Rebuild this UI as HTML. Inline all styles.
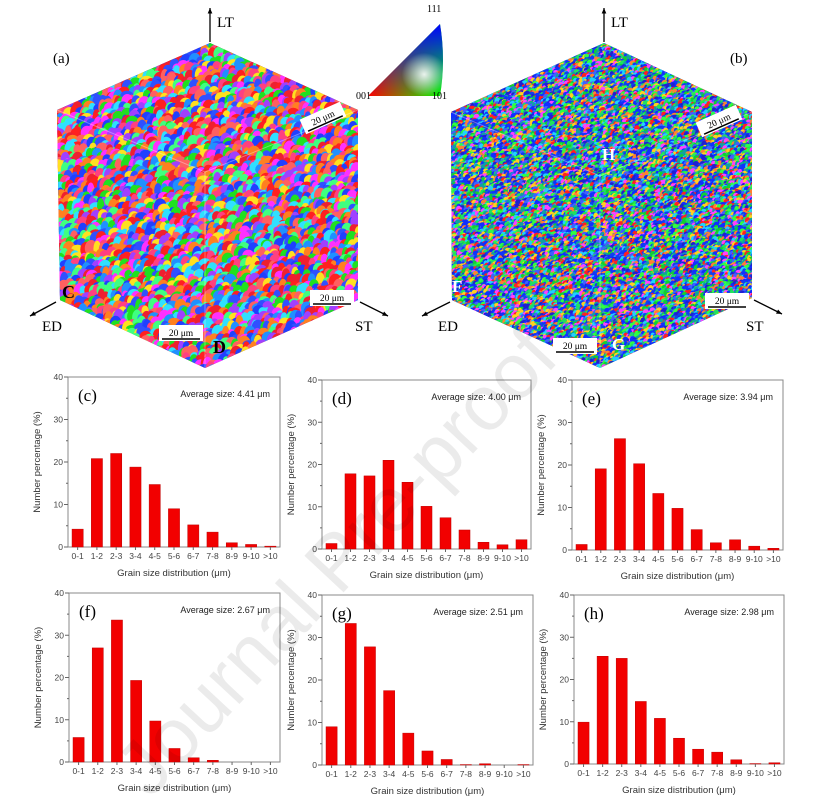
<!DOCTYPE html>
<html><head><meta charset="utf-8">
<style>
html,body{margin:0;padding:0;background:#fff;}
#wrap{position:relative;width:831px;height:806px;overflow:hidden;}
svg{position:absolute;left:0;top:0;}
</style></head>
<body>
<div id="wrap">
<svg id="svg" width="831" height="806" viewBox="0 0 831 806">
<defs>
<linearGradient id="ipfH" x1="0" y1="0" x2="1" y2="0"><stop offset="0" stop-color="#ff0000"/><stop offset="1" stop-color="#00ff00"/></linearGradient>
<linearGradient id="ipfV" x1="0" y1="1" x2="0" y2="0"><stop offset="0" stop-color="#0000ff" stop-opacity="0"/><stop offset="1" stop-color="#0000ff" stop-opacity="1"/></linearGradient>
<radialGradient id="ipfW" cx="0.75" cy="0.7" r="0.3"><stop offset="0" stop-color="#fff" stop-opacity="0.9"/><stop offset="1" stop-color="#fff" stop-opacity="0"/></radialGradient>
<clipPath id="clipA"><polygon points="210,43 358,110 358,300 205,368 60,300 57,110"/></clipPath>
<clipPath id="clipB"><polygon points="604,43 752,112 752,298 600,368 452,300 451,112"/></clipPath>
</defs>
<g id="cubeA" clip-path="url(#clipA)"></g>
<g id="cubeB" clip-path="url(#clipB)"></g>
<g id="charts"></g>
</svg>
</div>
<script>
// ---------- chart data ----------
const categories = ["0-1","1-2","2-3","3-4","4-5","5-6","6-7","7-8","8-9","9-10",">10"];
const yTicks = [0,10,20,30,40];
const valuesC = [4.2,20.8,22,18.8,14.7,9,5.2,3.5,1,0.6,0.2];
const valuesD = [1.3,17.8,17.3,21,15.8,10.1,7.4,4.5,1.6,1,2.2];
const valuesE = [1.3,19.1,26.2,20.3,13.3,9.8,4.8,1.7,2.4,0.9,0.4];
const valuesF = [5.8,27,33.6,19.3,9.7,3.2,1,0.4,0,0,0];
const valuesG = [9,33.3,27.8,17.5,7.5,3.3,1.3,0.1,0.3,0,0.1];
const valuesH = [9.9,25.5,25,14.8,10.8,6.1,3.5,2.8,1,0.1,0.3];
const panelLabels = ["(c)","(d)","(e)","(f)","(g)","(h)"];
const avgSizes = ["4.41","4.00","3.94","2.67","2.51","2.98"];

const NS="http://www.w3.org/2000/svg";
const svg=document.getElementById('svg');
function mk(tag,attrs,parent){const e=document.createElementNS(NS,tag);for(const k in attrs)e.setAttribute(k,attrs[k]);(parent||svg).appendChild(e);return e;}

// ---------- decorative grain mosaics ----------
let seed=12345;function rnd(){seed=(seed*16807)%2147483647;return seed/2147483647;}
const palA=["#ff2020","#20e020","#2040ff","#ff30ff","#30e0ff","#ff8020","#ffe020","#a040ff","#ff4080","#40ff80","#2090ff","#ff6060","#3050ff","#ee2030"];
const palB=["#1030ff","#1030ff","#2020d0","#1040f0","#10d030","#30ff40","#ff2020","#20d0ff","#ff40ff","#ffd020","#4060ff","#10a0a0","#ff8030","#20e060"];
function mosaic(g,x0,y0,x1,y1,cw,ch,pal){
  mk('rect',{x:x0,y:y0,width:x1-x0,height:y1-y0,fill:"#e8e8f0"},g);
  for(let y=y0;y<y1;y+=ch*0.75){for(let x=x0;x<x1;x+=cw*0.75){
    const w=cw*(0.6+rnd()*0.5),h=ch*(0.6+rnd()*0.6);
    const r=mk('ellipse',{cx:(x+rnd()*cw*0.6).toFixed(1),cy:(y+rnd()*ch*0.6).toFixed(1),rx:w.toFixed(1),ry:h.toFixed(1),fill:pal[Math.floor(rnd()*pal.length)]},g);
    
    
  }}
}
mosaic(document.getElementById('cubeA'),50,38,365,375,6,7,palA);
mosaic(document.getElementById('cubeB'),445,38,760,375,3,3,palB);
// cube edges
mk('polyline',{points:"57,110 205,172 358,110",fill:"none",stroke:"#fff","stroke-opacity":0.35,"stroke-width":1});
mk('line',{x1:205,y1:172,x2:205,y2:368,stroke:"#fff","stroke-opacity":0.35});
mk('polyline',{points:"451,112 600,176 752,112",fill:"none",stroke:"#fff","stroke-opacity":0.35});
mk('line',{x1:600,y1:176,x2:600,y2:368,stroke:"#fff","stroke-opacity":0.35});

function txt(x,y,s,size,fam,attrs,name){const t=mk('text',Object.assign({x:x,y:y,"font-size":size,"font-family":fam,fill:"#000"},attrs||{}));t.textContent=s;return t;}
const SERIF='"Liberation Serif", serif', SANS='"Liberation Sans", sans-serif';
function arrow(x1,y1,x2,y2,name){const l=mk('line',{x1,y1,x2,y2,stroke:"#000","stroke-width":1.3});
 const a=Math.atan2(y2-y1,x2-x1),s=6;mk('polygon',{points:`${x2},${y2} ${x2-s*Math.cos(a-0.4)},${y2-s*Math.sin(a-0.4)} ${x2-s*Math.cos(a+0.4)},${y2-s*Math.sin(a+0.4)}`,fill:"#000"});}
arrow(210,42,210,8,'lt-arrow-a');arrow(56,302,30,316,'ed-arrow-a');arrow(360,302,388,316,'st-arrow-a');
arrow(604,42,604,8,'lt-arrow-b');arrow(450,302,422,316,'ed-arrow-b');arrow(754,300,782,314,'st-arrow-b');
txt(217,27,"LT",15,SERIF,{},'lt-label-a');txt(42,331,"ED",15,SERIF,{},'ed-label-a');txt(355,331,"ST",15,SERIF,{},'st-label-a');
txt(611,27,"LT",15,SERIF,{},'lt-label-b');txt(438,331,"ED",15,SERIF,{},'ed-label-b');txt(746,331,"ST",15,SERIF,{},'st-label-b');
txt(53,63,"(a)",15,SERIF,{},'panel-label-a');txt(730,63,"(b)",15,SERIF,{},'panel-label-b');
txt(62,298,"C",18,SERIF,{"font-weight":"bold"},'marker-c');txt(213,353,"D",18,SERIF,{"font-weight":"bold"},'marker-d');
txt(452,292,"F",17,SERIF,{"font-weight":"bold",fill:"#fff"},'marker-f');txt(612,350,"G",17,SERIF,{"font-weight":"bold",fill:"#fff"},'marker-g');
txt(602,160,"H",17,SERIF,{"font-weight":"bold",fill:"#fff"},'marker-h');
function sbar(x,y,w,name,rot){const g=mk('g',{transform:rot||""});
 mk('rect',{x:x-3,y:y-12,width:w+6,height:16,fill:"#fff"},g);mk('line',{x1:x,y1:y+2,x2:x+w,y2:y+2,stroke:"#000","stroke-width":1.5},g);
 const t=mk('text',{x:x+w/2,y:y-1,"text-anchor":"middle","font-size":9.5,"font-family":SERIF},g);t.textContent="20 μm";}
sbar(162,337,38,'scale-bar-a-front');sbar(313,302,38,'scale-bar-a-side');sbar(304,122,38,'scale-bar-a-top',"rotate(-24 323 118)");
sbar(556,350,38,'scale-bar-b-front');sbar(708,305,38,'scale-bar-b-side');sbar(700,125,38,'scale-bar-b-top',"rotate(-24 719 121)");
const ipf=mk('g',{});
mk('path',{d:"M368,96 L440,96 Q446,60 440,24 Z",fill:"url(#ipfH)"},ipf);
mk('path',{d:"M368,96 L440,96 Q446,60 440,24 Z",fill:"url(#ipfV)"},ipf);
mk('path',{d:"M368,96 L440,96 Q446,60 440,24 Z",fill:"url(#ipfW)"},ipf);
txt(356,99,"001",10,SERIF,{},'ipf-001');txt(432,99,"101",10,SERIF,{},'ipf-101');txt(427,12,"111",10,SERIF,{},'ipf-111');

// ---------- histograms ----------
const charts=document.getElementById('charts');
function drawChart(box,vals,label,avg,name){
  const g=mk('g',{},charts);
  const {l,r,t,b}=box, n=categories.length, slot=(r-l)/n;
  const yS=v=>b-(v/40)*(b-t);
  const xS=i=>l+slot*(i+0.5);
  mk('rect',{x:l,y:t,width:r-l,height:b-t,fill:"none",stroke:"#888","stroke-width":1},g);
  yTicks.forEach(v=>{mk('line',{x1:l-4,y1:yS(v),x2:l,y2:yS(v),stroke:"#666"},g);
    if(v<40)mk('line',{x1:l-2,y1:yS(v+5),x2:l,y2:yS(v+5),stroke:"#666"},g);
    const tt=mk('text',{x:l-5,y:yS(v)+3,"text-anchor":"end","font-size":8.5,"font-family":SANS,fill:"#444"},g);tt.textContent=v;
    });
  const bw=slot*0.58;
  vals.forEach((v,i)=>{
    const bar=mk('rect',{x:xS(i)-bw/2,y:yS(v),width:bw,height:b-yS(v),fill:"#f20000",stroke:"#c00000","stroke-width":0.5},g);
    
    
    mk('line',{x1:xS(i),y1:b,x2:xS(i),y2:b+3,stroke:"#666"},g);
    const xt=mk('text',{x:xS(i),y:b+12,"text-anchor":"middle","font-size":8.5,"font-family":SANS,fill:"#444"},g);xt.textContent=categories[i];
    
  });
  const xl=mk('text',{x:(l+r)/2,y:b+29,"text-anchor":"middle","font-size":9.5,"font-family":SANS,fill:"#333"},g);xl.textContent="Grain size distribution (μm)";
  
  const yl=mk('text',{x:0,y:0,"text-anchor":"middle","font-size":9.5,"font-family":SANS,fill:"#333",transform:`translate(${l-28},${(t+b)/2}) rotate(-90)`},g);yl.textContent="Number percentage (%)";
  
  const pl=mk('text',{x:l+10,y:t+24,"font-size":17,"font-family":SERIF},g);pl.textContent=label;
  
  const av=mk('text',{x:r-10,y:t+20,"text-anchor":"end","font-size":9,"font-family":SANS,fill:"#222"},g);av.textContent="Average size: "+avg+" μm";
  
}
drawChart({l:68,r:280,t:377,b:547},valuesC,panelLabels[0],avgSizes[0],'histogram-c');
drawChart({l:322,r:531,t:380,b:549},valuesD,panelLabels[1],avgSizes[1],'histogram-d');
drawChart({l:572,r:783,t:380,b:550},valuesE,panelLabels[2],avgSizes[2],'histogram-e');
drawChart({l:69,r:280,t:593,b:762},valuesF,panelLabels[3],avgSizes[3],'histogram-f');
drawChart({l:322,r:533,t:595,b:765},valuesG,panelLabels[4],avgSizes[4],'histogram-g');
drawChart({l:574,r:784,t:595,b:764},valuesH,panelLabels[5],avgSizes[5],'histogram-h');

const wm=mk('text',{x:0,y:0,"font-size":78,"font-family":SANS,fill:"#000","fill-opacity":0.08,transform:"translate(150,800) rotate(-47)"});
wm.textContent="Journal Pre-proof";


</script>
</body></html>
